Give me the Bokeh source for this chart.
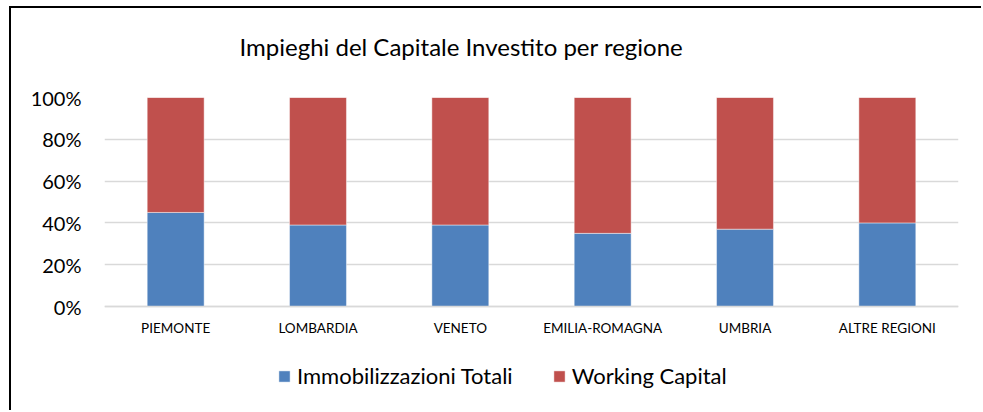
from bokeh.plotting import figure
from bokeh.models import ColumnDataSource, Legend, LegendItem, NumeralTickFormatter, FixedTicker, Range1d, Title
from bokeh.embed import file_html
from bokeh.resources import INLINE

regioni = ["PIEMONTE", "LOMBARDIA", "VENETO", "EMILIA-ROMAGNA", "UMBRIA", "ALTRE REGIONI"]
immobilizzazioni_totali = [0.45, 0.39, 0.39, 0.35, 0.37, 0.40]
working_capital = [0.55, 0.61, 0.61, 0.65, 0.63, 0.60]
serie = ["Immobilizzazioni Totali", "Working Capital"]
colori = ["#4F81BD", "#C0504D"]
y_ticks = [0, 0.2, 0.4, 0.6, 0.8, 1.0]

source = ColumnDataSource(dict(regione=regioni,
                               imm=immobilizzazioni_totali,
                               wc=working_capital))

FONT = "Lato"

# the frame extends below 0% so that axis labels and legend live inside it
p = figure(x_range=regioni, y_range=Range1d(-106 / 209, 1), width=972, height=404,
           output_backend="svg", toolbar_location=None,
           min_border_left=93, min_border_right=25, min_border_top=89, min_border_bottom=0)
p.title = None
p.margin = (8, 0, 0, 11)

renderers = p.vbar_stack(["imm", "wc"], x="regione", width=0.4, source=source,
                         color=colori, line_color="white", line_alpha=0.45, line_width=1)

spacer = Title(text=" ", text_font=FONT, text_font_size="10px", standoff=18)
p.add_layout(spacer, "above")
t = Title(text="Impieghi del Capitale Investito per regione", align="left", offset=135,
          standoff=10, text_font=FONT, text_font_size="24px", text_font_style="normal",
          text_color="#000000")
p.add_layout(t, "above")

p.outline_line_color = None
p.background_fill_color = "white"
p.border_fill_color = "white"

p.xgrid.grid_line_color = None
p.ygrid.grid_line_color = "#d9d9d9"
p.ygrid.grid_line_width = 1.5

p.yaxis.ticker = FixedTicker(ticks=y_ticks)
p.yaxis.formatter = NumeralTickFormatter(format="0%")
p.yaxis.axis_line_color = None
p.yaxis.major_tick_line_color = None
p.yaxis.minor_tick_line_color = None
p.yaxis.major_label_text_font = FONT
p.yaxis.major_label_text_font_size = "20px"
p.yaxis.major_label_text_color = "#000000"
p.yaxis.major_label_standoff = 17

p.xaxis.fixed_location = 0
p.xaxis.axis_line_color = "#d9d9d9"
p.xaxis.axis_line_width = 1.5
p.xaxis.major_tick_line_color = None
p.xaxis.minor_tick_line_color = None
p.xaxis.major_label_text_font = FONT
p.xaxis.major_label_text_font_size = "13.5px"
p.xaxis.major_label_text_color = "#000000"
p.xaxis.major_label_standoff = 7

p.x_range.range_padding = 0

legend = Legend(items=[LegendItem(label=serie[i], renderers=[renderers[i]]) for i in range(2)],
                orientation="horizontal", location=(173, 23),
                label_text_font=FONT, label_text_font_size="22px", label_text_color="#000000",
                glyph_width=14, glyph_height=14, label_standoff=6, spacing=39,
                padding=0, margin=0, border_line_color=None, background_fill_alpha=0)
p.add_layout(legend, "center")

p.styles = {"box-shadow": "-2px -2px 0 0 #000000"}

open("out.html", "w").write(file_html(p, INLINE))
